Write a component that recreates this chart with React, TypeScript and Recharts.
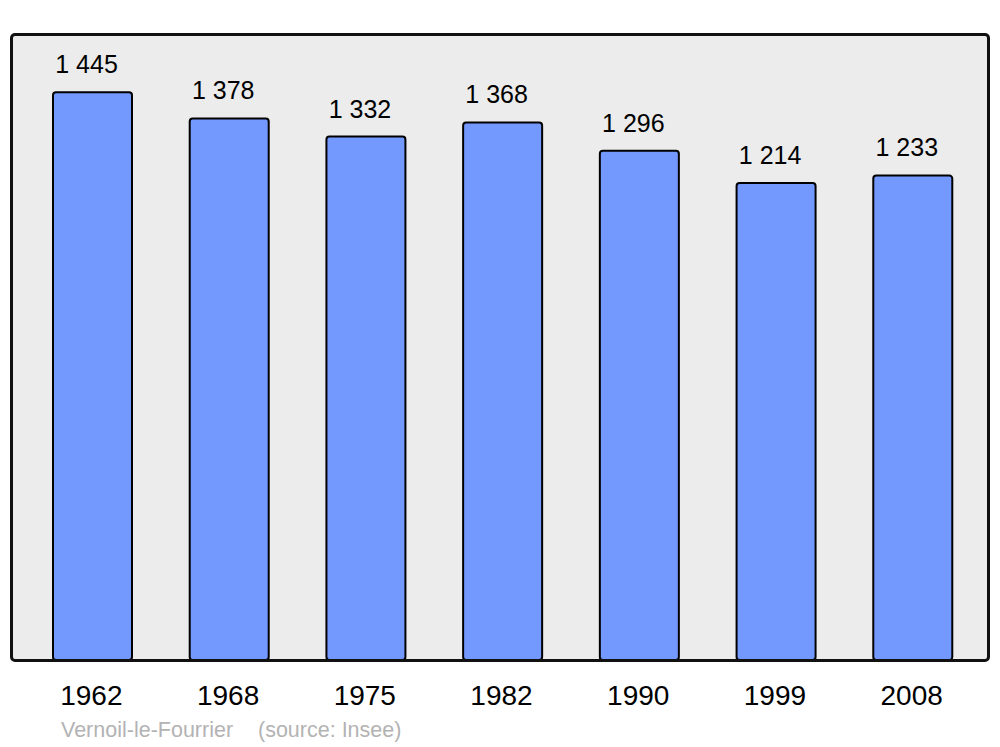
import { BarChart, Bar, XAxis, YAxis, CartesianGrid, LabelList } from "recharts";

const years = ["1962", "1968", "1975", "1982", "1990", "1999", "2008"];
const population = [1445, 1378, 1332, 1368, 1296, 1214, 1233];
const yMax = 1593;

const data = years.map((year, i) => ({ year, population: population[i] }));

const fmt = (v: number) => {
  const s = String(v);
  return s.length > 3 ? s.slice(0, s.length - 3) + " " + s.slice(-3) : s;
};

const font = '"Liberation Sans", Arial, sans-serif';

function YearTick(props: any) {
  const { x, y, payload } = props;
  return (
    <text x={x - 1} y={y + 45} textAnchor="middle" fontSize={28} fontFamily={font} fill="#000">
      {payload.value}
    </text>
  );
}

function ValueLabel(props: any) {
  const { x, y, width, value } = props;
  return (
    <text x={x + width / 2 - 6} y={y - 19} textAnchor="middle" fontSize={25} fontFamily={font} fill="#000">
      {fmt(value)}
    </text>
  );
}

const footer = {
  position: "absolute" as const,
  top: 720,
  fontFamily: font,
  fontSize: 21.5,
  lineHeight: "20px",
  color: "#b3b3b3",
  whiteSpace: "nowrap" as const,
};

export default function App() {
  return (
    <div style={{ position: "absolute", left: 0, top: 0, width: 1000, height: 747, background: "#fff" }}>
      <BarChart
        width={1000}
        height={747}
        data={data}
        margin={{ top: 34, right: 11, left: 11, bottom: 0 }}
      >
        <CartesianGrid horizontal={false} vertical={false} fill="#ececec" />
        <XAxis
          dataKey="year"
          height={87}
          axisLine={false}
          tickLine={false}
          tickSize={0}
          tickMargin={0}
          padding={{ left: 13, right: 8 }}
          tick={<YearTick />}
          interval={0}
        />
        <YAxis hide domain={[0, yMax]} />
        <Bar
          dataKey="population"
          fill="#7399ff"
          stroke="#000"
          strokeWidth={2}
          barSize={79}
          radius={3}
          isAnimationActive={false}
        >
          <LabelList dataKey="population" content={<ValueLabel />} />
        </Bar>
      </BarChart>
      <div
        style={{
          position: "absolute",
          left: 9.5,
          top: 32.5,
          width: 980,
          height: 629,
          boxSizing: "border-box",
          border: "3px solid #111",
          borderRadius: 5,
          pointerEvents: "none",
        }}
      />
      <div style={{ ...footer, left: 61 }}>Vernoil-le-Fourrier</div>
      <div style={{ ...footer, left: 258 }}>(source: Insee)</div>
    </div>
  );
}
